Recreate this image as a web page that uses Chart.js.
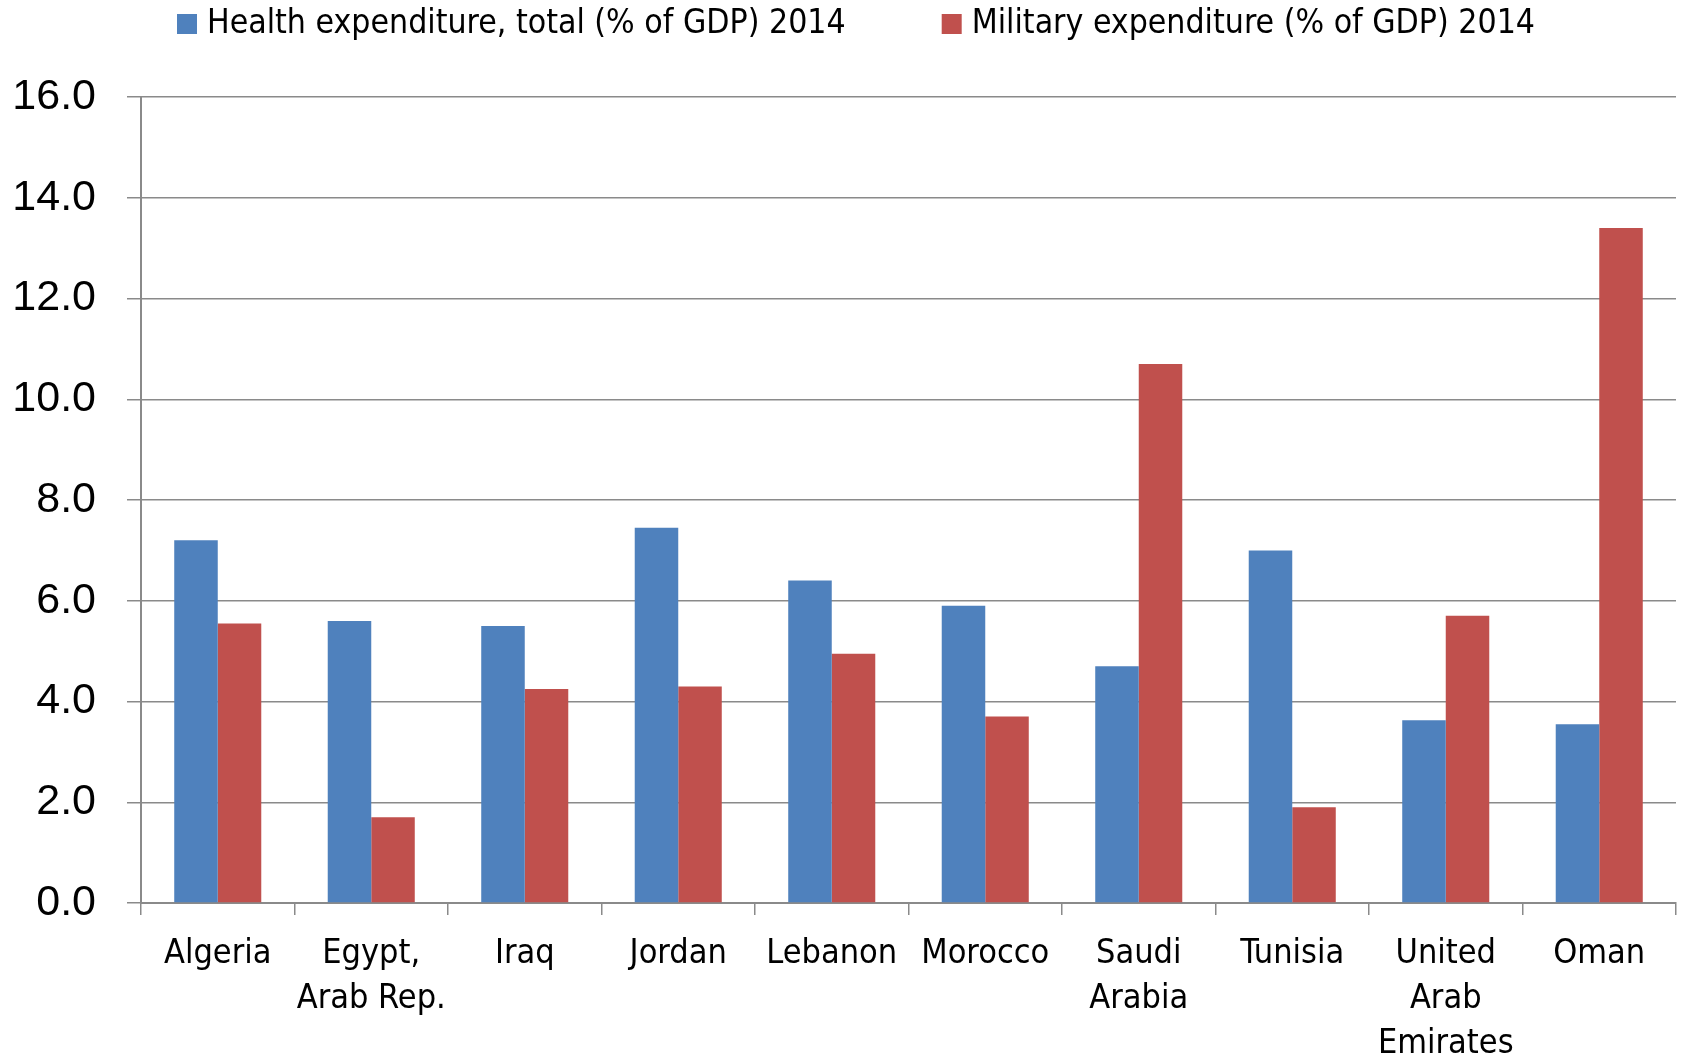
<!DOCTYPE html>
<html>
<head>
<meta charset="utf-8">
<script src="https://cdn.jsdelivr.net/npm/chart.js@4/dist/chart.umd.min.js"></script>
<style>
  html, body { margin: 0; padding: 0; background: #ffffff; }
  #wrap { width: 1685px; height: 1057px; position: relative; }
</style>
</head>
<body>
<div id="wrap"><canvas id="c" width="1685" height="1057"></canvas></div>
<script>
const categories = [
  "Algeria",
  ["Egypt,", "Arab Rep."],
  "Iraq",
  "Jordan",
  "Lebanon",
  "Morocco",
  ["Saudi", "Arabia"],
  "Tunisia",
  ["United", "Arab", "Emirates"],
  "Oman"
];
const seriesNames = [
  "Health expenditure, total (% of GDP) 2014",
  "Military expenditure (% of GDP) 2014"
];
const healthValues   = [7.2, 5.6, 5.5, 7.45, 6.4, 5.9, 4.7, 7.0, 3.63, 3.55];
const militaryValues = [5.55, 1.7, 4.25, 4.3, 4.95, 3.7, 10.7, 1.9, 5.7, 13.4];
const yTicks = [0, 2, 4, 6, 8, 10, 12, 14, 16];

const BLUE = "#4F81BD";
const RED = "#C0504D";
const GRID = "#8a8a8a";
const LABEL_FONT = "'Liberation Sans Narrow', 'DejaVu Sans Condensed', 'Open Sans', sans-serif";
const TICK_FONT = "'Liberation Sans', Arial, sans-serif";

const legendPlugin = {
  id: "customLegend",
  afterDraw(chart) {
    const ctx = chart.ctx;
    const items = [
      { text: seriesNames[0], color: BLUE },
      { text: seriesNames[1], color: RED }
    ];
    ctx.save();
    ctx.font = "33.5px " + LABEL_FONT;
    ctx.textBaseline = "middle";
    let x = 177;
    const cy = 24;
    items.forEach((it) => {
      ctx.fillStyle = it.color;
      ctx.fillRect(x, cy - 10, 20, 20);
      x += 30;
      ctx.fillStyle = "#000";
      ctx.textAlign = "left";
      ctx.fillText(it.text, x, cy);
      x += ctx.measureText(it.text).width + 96;
    });
    ctx.restore();
  }
};

new Chart(document.getElementById("c"), {
  type: "bar",
  data: {
    labels: categories,
    datasets: [
      { label: seriesNames[0], data: healthValues, backgroundColor: BLUE,
        categoryPercentage: 0.567, barPercentage: 1.0 },
      { label: seriesNames[1], data: militaryValues, backgroundColor: RED,
        categoryPercentage: 0.567, barPercentage: 1.0 }
    ]
  },
  options: {
    responsive: false,
    animation: false,
    devicePixelRatio: 1,
    layout: { padding: { top: 97, right: 9, left: 0, bottom: 0 } },
    plugins: {
      legend: { display: false },
      tooltip: { enabled: false },
      title: { display: false }
    },
    scales: {
      x: {
        grid: {
          offset: true,
          drawOnChartArea: false,
          drawTicks: true,
          tickLength: 12,
          color: GRID,
          lineWidth: 1.5
        },
        border: { display: true, color: GRID, width: 2 },
        ticks: {
          color: "#000",
          font: { family: LABEL_FONT, size: 34, lineHeight: 1.32 },
          padding: 17,
          maxRotation: 0,
          autoSkip: false
        },
        afterFit(scale) { scale.height = 154; }
      },
      y: {
        min: 0,
        max: 16,
        afterBuildTicks(scale) { scale.ticks = yTicks.map(v => ({ value: v })); },
        grid: {
          color: GRID,
          lineWidth: 1.5,
          drawTicks: true,
          tickLength: 14
        },
        border: { display: true, color: GRID, width: 2 },
        ticks: {
          color: "#000",
          font: { family: TICK_FONT, size: 43 },
          padding: 31,
          callback: (v) => Number(v).toFixed(1)
        },
        afterFit(scale) { scale.width = 141; }
      }
    }
  },
  plugins: [legendPlugin]
});
</script>
</body>
</html>
